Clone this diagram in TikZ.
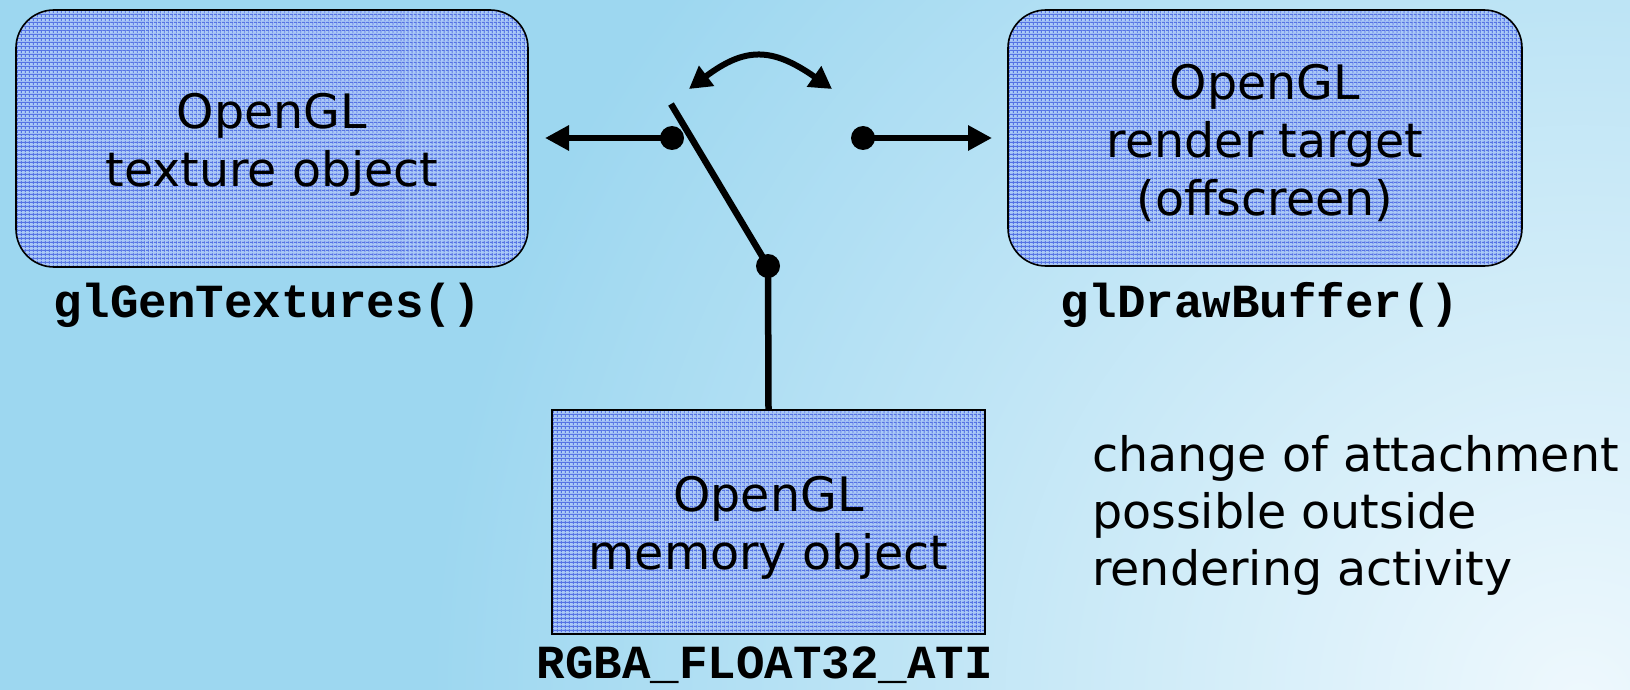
\documentclass[tikz,border=0pt]{standalone}
\usepackage{fontspec}
\setmainfont{DejaVu Sans}
\setmonofont{Liberation Mono}
\usetikzlibrary{arrows.meta,patterns.meta}
\definecolor{bgblue}{RGB}{157,215,240}
\definecolor{bglight}{RGB}{238,248,253}
\definecolor{boxbase}{RGB}{170,202,247}
\definecolor{boxline}{RGB}{84,114,228}
\tikzset{
  objbox/.style={draw=black, line width=1.6pt, inner sep=0pt,
    preaction={fill=boxbase},
    preaction={pattern={Lines[distance=4pt,line width=1.3pt,angle=0]}, pattern color=boxline},
    preaction={pattern={Lines[distance=4pt,line width=1.3pt,angle=90]}, pattern color=boxline}},
  title/.style={font=\fontsize{47.5}{58}\selectfont, inner sep=0pt, align=center},
  note/.style={font=\fontsize{47.5}{57}\selectfont, inner sep=0pt, align=left},
  code/.style={font=\fontsize{47.5}{58}\selectfont\ttfamily\bfseries, inner sep=0pt},
  dot/.style={circle, fill=black, inner sep=0pt, minimum size=24pt},
  conn/.style={line width=6.5pt, draw=black},
  tipped/.style={-{Triangle[length=24pt,width=24pt]}},
  bothtips/.style={{Triangle[length=22pt,width=24pt]}-{Triangle[length=22pt,width=24pt]}}
}
\begin{document}
\begin{tikzpicture}[x=1pt,y=-1pt]
\useasboundingbox (0,0) rectangle (1630,690);
% background
\fill[bgblue] (0,0) rectangle (1630,690);
\begin{scope}
  \clip (0,0) rectangle (1630,690);
  \shade[inner color=bglight, outer color=bgblue] (1580,700) circle (1150);
\end{scope}

% boxes
\node[objbox, rounded corners=38pt, minimum width=512pt, minimum height=257pt] (tex) at (272,138.5) {};
\node[objbox, rounded corners=38pt, minimum width=514pt, minimum height=256pt] (rt) at (1265,138) {};
\node[objbox, minimum width=433pt, minimum height=224pt] (mem) at (768.5,522) {};

% box texts
\node[title, anchor=north] (textxt) at (272,93) {OpenGL\\texture object};
\node[title, anchor=north] (rttxt) at (1265,64) {OpenGL\\render target\\(offscreen)};
\node[title, anchor=north] (memtxt) at (768.5,476) {OpenGL\\memory object};

% labels
\node[code, anchor=base] (lgen) at (267,317) {glGenTextures()};
\node[code, anchor=base] (ldraw) at (1260,317) {glDrawBuffer()};
\node[code, anchor=base] (lfmt) at (765,678) {RGBA\_FLOAT32\_ATI};

% switch
\node[dot] (ldot) at (672,138) {};
\node[dot] (rdot) at (863,138) {};
\node[dot] (pivot) at (768,266) {};
\coordinate (ltip) at (545,138);
\coordinate (rtip) at (992,138);
\coordinate (levtop) at (671,104);
\coordinate (cl) at (689,89);
\coordinate (cr) at (832,89);

\draw[conn, tipped] (ldot.center) -- (ltip);
\draw[conn, tipped] (rdot.center) -- (rtip);
\draw[conn] (levtop) -- (pivot.center);
\draw[conn] (pivot.center) -- (mem.north);
\draw[conn, line width=6pt, bothtips] (cl) .. controls (745,47) and (772,47) .. (cr);

% note
\node[note, anchor=north west] (notetxt) at (1092,435) {change of attachment\\possible outside\\rendering activity};
\end{tikzpicture}
\end{document}
